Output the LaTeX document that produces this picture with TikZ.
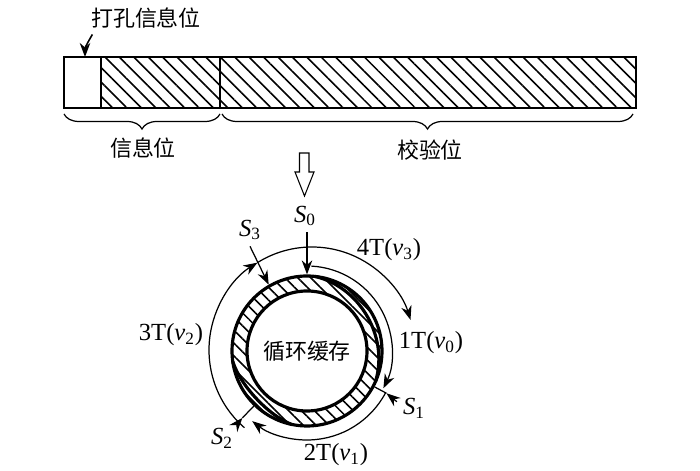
\documentclass[tikz,border=0pt]{standalone}
\usepackage{fontspec}
\setmainfont{Liberation Serif}
\newfontfamily\cjk{Noto Sans CJK SC}
\usepackage{tikz}
\usetikzlibrary{
  positioning, arrows.meta, calc,
  decorations.pathreplacing, patterns.meta
}
\newcommand{\symsub}[2]{\textit{#1}\textsubscript{#2}}

\begin{document}
\begin{tikzpicture}[
  every node/.style={font=\fontsize{14}{16}\selectfont},
  cjklabel/.style={font=\cjk\fontsize{12.5}{15}\selectfont},
  hatchfill/.style={pattern={Lines[angle=-45, distance=#1, line width=0.9pt]}},
  barline/.style={line width=1.3pt},
  ringline/.style={line width=1.8pt},
  flowarc/.style={line width=0.7pt, -{Stealth[length=8pt, width=6pt]}},
  tagarrow/.style={line width=0.7pt, -{Stealth[length=8pt, width=6pt]}},
  bracedeco/.style={line width=0.7pt, decorate,
    decoration={brace, mirror, amplitude=0.3cm}},
]
\useasboundingbox (0,0) rectangle (14,9.42);

% === CODE WORD BAR ===
\fill[hatchfill=5.8pt] (2.02,7.26) rectangle (12.72,8.28);
\draw[barline] (1.28,7.26) rectangle (12.72,8.28);
\draw[barline] (2.02,7.26) -- (2.02,8.28);
\draw[barline] (4.40,7.26) -- (4.40,8.28);

\node[cjklabel] (punch) at (2.92,9.06) {打孔信息位};
\coordinate (hole) at (1.70,8.28);
\draw[tagarrow, line width=0.9pt] ([xshift=0.15cm]punch.south west) to[out=-120, in=90] (hole);

% braces under the bar
\coordinate (brA) at (1.28,7.14);
\coordinate (brB) at (4.40,7.14);
\coordinate (brC) at (4.44,7.14);
\coordinate (brD) at (12.66,7.14);
\draw[bracedeco] (brA) -- (brB);
\draw[bracedeco] (brC) -- (brD);
\node[cjklabel] (info) at (2.86,6.46) {信息位};
\node[cjklabel] (check) at (8.60,6.42) {校验位};

% === HOLLOW DOWN ARROW ===
\draw[line width=0.6pt] (5.99,6.36) -- (6.18,6.36) -- (6.18,5.98) -- (6.28,5.98)
  -- (6.09,5.50) -- (5.90,5.98) -- (5.99,5.98) -- cycle;

% === CIRCULAR BUFFER ===
\coordinate (ctr) at (6.14,2.40);
\coordinate (bigctr) at (6.24,2.42);
\fill[hatchfill=5.2pt, even odd rule] (ctr) circle (1.5) (ctr) circle (1.2);
\node[circle, draw, ringline, minimum size=3cm, inner sep=0] (ring) at (ctr) {};
\node[circle, draw, ringline, minimum size=2.4cm, inner sep=0, cjklabel] (buffer) at (ctr) {循环缓存};
\draw[ringline, shift={(6.14,2.40)}] plot[domain=-24:84, samples=40, smooth]
  (\x:{1.5-0.11*sin((\x+24)*1.6667)});
\draw[ringline, shift={(6.14,2.40)}] plot[domain=188:258, samples=30, smooth]
  (\x:{1.5-0.11*sin((\x-188)*2.5714)});

% time arcs round the buffer
\draw[flowarc] ($(ctr)+(87:1.70)$) arc[start angle=87, end angle=-26, radius=1.70];
\draw[flowarc] ($(ctr)+(-28:1.78)$) arc[start angle=-28, end angle=-128, radius=1.78];
\draw[flowarc] ($(bigctr)+(229:2.06)$) arc[start angle=229, end angle=122, radius=2.06];
\draw[flowarc] ($(bigctr)+(122:2.06)$) arc[start angle=122, end angle=17, radius=2.06];

\node (t1) at (8.62,2.56) {1T(\symsub{v}{0})};
\node (t2) at (6.72,0.32) {2T(\symsub{v}{1})};
\node (t3) at (3.42,2.72) {3T(\symsub{v}{2})};
\node (t4) at (7.78,4.42) {4T(\symsub{v}{3})};

% start points
\node (s0) at (6.10,5.10) {\symsub{S}{0}};
\node (s1) at (8.28,1.26) {\symsub{S}{1}};
\node (s2) at (4.44,0.66) {\symsub{S}{2}};
\node (s3) at (5.00,4.82) {\symsub{S}{3}};
\coordinate (s1tip) at ($(ctr)+(-28:1.80)$);
\coordinate (s2tip) at ($(ctr)+(226:1.86)$);

\draw[tagarrow] (s0.south -| ring.north) -- (ring.north);
\draw[tagarrow] (s3.south) -- (ring.120);
\draw[tagarrow] (s1.160) -- (s1tip);
\draw[line width=0.7pt] (s1tip) -- (ring.-28);
\draw[tagarrow] (s2.north east) -- (s2tip);
\draw[line width=0.7pt] (s2tip) -- (ring.226);

\end{tikzpicture}
\end{document}
